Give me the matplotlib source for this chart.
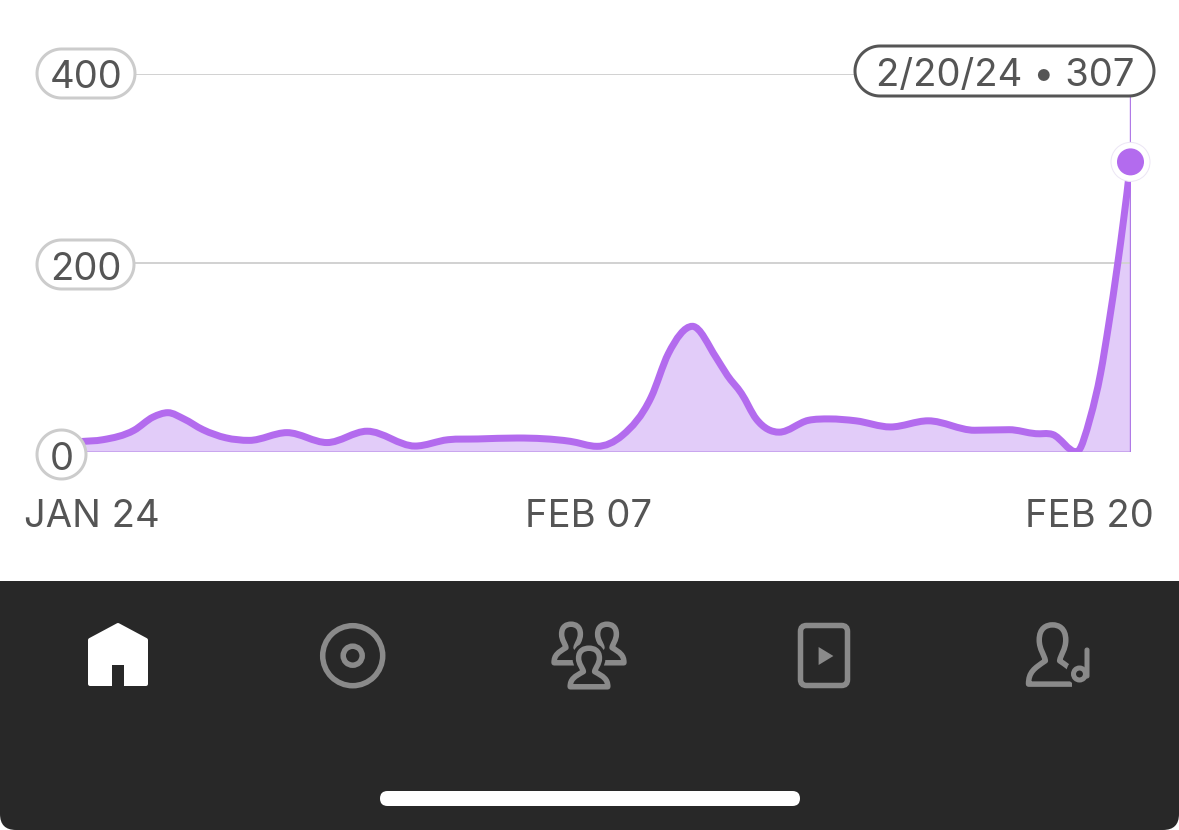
import numpy as np
import matplotlib
matplotlib.use("Agg")
import matplotlib.pyplot as plt
from matplotlib.path import Path
from matplotlib.patches import PathPatch, FancyBboxPatch, Circle, Polygon, Rectangle

# ---- data ----
day_offsets = [0, .59, 1.39, 1.88, 2.26, 2.67, 3.16, 3.75, 4.35, 5.32, 6.35,
               7.38, 8.61, 9.46, 10.23, 11.24, 12.6, 13.29,
               13.94, 14.68, 15.12, 15.74, 16.35, 16.64, 17.0, 17.38,
               17.97, 18.72, 19.26, 19.94, 20.83, 21.8, 22.99, 23.88, 24.56,
               25.0, 25.61, 25.97, 26.23, 26.44, 26.67, 26.82, 27]
streams = [11, 13, 23, 37, 41.6, 35, 23.6, 15, 12.3, 20.5, 10,
           22, 6.3, 13, 13.8, 14.8, 11.3, 6,
           17.6, 58, 104, 133, 100, 81, 62, 35,
           21, 33.5, 35, 33, 26.5, 33, 23, 23.6, 19.4,
           18.5, 0, 37, 83, 135, 199, 245, 307]
y_ticks = [0, 200, 400]
y_labels = ["0", "200", "400"]
x_labels = ["JAN 24", "FEB 07", "FEB 20"]
callout = "2/20/24 • 307"

W, H = 1179, 830
PURPLE, FILL, DARK, GREY, BAR = "#b36bee", "#e2ccf9", "#555555", "#8a8a8a", "#282828"
px = 0.72
plt.rcParams["font.family"] = ["Inter", "DejaVu Sans"]


def smooth_path(x, y):
    """Smooth cubic through the values, flat at local extremes, as Bezier segments."""
    x, y = np.asarray(x, float), np.asarray(y, float)
    h = np.diff(x)
    s = np.diff(y) / h
    m = np.zeros_like(y)
    m[0], m[-1] = s[0], s[-1] * 1.1
    for i in range(1, len(y) - 1):
        if s[i - 1] * s[i] > 0:
            m[i] = (h[i] * s[i - 1] + h[i - 1] * s[i]) / (h[i - 1] + h[i])
    verts, codes = [(x[0], y[0])], [Path.MOVETO]
    for i in range(len(h)):
        verts += [(x[i] + h[i] / 3, y[i] + m[i] * h[i] / 3),
                  (x[i + 1] - h[i] / 3, y[i + 1] - m[i + 1] * h[i] / 3),
                  (x[i + 1], y[i + 1])]
        codes += [Path.CURVE4] * 3
    return verts, codes


fig = plt.figure(figsize=(W / 100, H / 100), dpi=100, facecolor="white")

# main plot
ax = fig.add_axes([80 / W, (H - 452) / H, 1050.5 / W, 378 / H], facecolor="none")
ax.set_xlim(0, 27)
ax.set_ylim(0, 400)
for s in ax.spines.values():
    s.set_visible(False)
ax.set_xticks([])
ax.set_yticks([])

ax.hlines([t for t in y_ticks if t > 0], 0, 27, color="#d2d2d2", lw=2 * px, zorder=2.2)

verts, codes = smooth_path(day_offsets, streams)
fill_path = Path(verts + [(day_offsets[-1], 0), (day_offsets[0], 0), (day_offsets[0], 0)],
                 codes + [Path.LINETO, Path.LINETO, Path.CLOSEPOLY])
ax.add_patch(PathPatch(fill_path, fc=FILL, ec="none", zorder=2))
ax.hlines(0, 0, 27, color="#c9a6ee", lw=3 * px, zorder=2.5)
ax.add_patch(PathPatch(Path(verts, codes), fc="none", ec=PURPLE, lw=7 * px, zorder=3,
                       capstyle="butt"))
ax.vlines(day_offsets[-1], 0, 378, color="#b07ae6", lw=3.4 * px, zorder=2.6)

# overlay in pixel coordinates
ov = fig.add_axes([0, 0, 1, 1], facecolor="none")
ov.set_xlim(0, W)
ov.set_ylim(H, 0)
ov.axis("off")


def pill(x0, y0, x1, y1, ec, lw):
    r = (y1 - y0) / 2
    cy = (y0 + y1) / 2
    a = np.linspace(-np.pi / 2, np.pi / 2, 40)
    right = np.c_[x1 - r + r * np.cos(a), cy + r * np.sin(a)]
    left = np.c_[x0 + r - r * np.cos(a), cy - r * np.sin(a)]
    ov.add_patch(Polygon(np.r_[right, left], closed=True, fc="white", ec=ec, lw=lw * px, zorder=5))


text_kw = dict(color=DARK, va="center_baseline", zorder=6, fontweight="normal")
FS = 27.5
pill_boxes = {"400": (37, 49, 135, 98), "200": (37, 240, 134, 289), "0": (37, 430, 86, 479)}
for lab in y_labels:
    b = pill_boxes[lab]
    pill(*b, "#cccccc", 3)
    ov.text((b[0] + b[2]) / 2, (b[1] + b[3]) / 2 + 1, lab, ha="center", fontsize=FS, **text_kw)

pill(855, 46, 1154, 96, DARK, 3)
ov.text(1005, 72, callout, ha="center", fontsize=FS, **text_kw)

# highlighted point
xp, yp = ax.transData.transform((day_offsets[-1], streams[-1]))
yp = H - yp
ov.add_patch(Circle((xp, yp), 19.5, fc="white", ec="#ece6f5", lw=1 * px, zorder=4))
ov.add_patch(Circle((xp, yp), 13.5, fc=PURPLE, ec="none", zorder=4.5))

# x labels
ov.text(24, 513, x_labels[0], ha="left", fontsize=FS, **text_kw)
ov.text(589, 513, x_labels[1], ha="center", fontsize=FS, **text_kw)
ov.text(1154, 513, x_labels[2], ha="right", fontsize=FS, **text_kw)

# tab bar
ov.add_patch(Rectangle((0, 581), W, 230, fc=BAR, ec="none", zorder=1))
ov.add_patch(FancyBboxPatch((0, 700), W, 130, boxstyle="round,pad=0,rounding_size=16",
                            fc=BAR, ec="none", zorder=1))
ov.add_patch(FancyBboxPatch((380, 791), 420, 15, boxstyle="round,pad=0,rounding_size=7.5",
                            fc="white", ec="none", zorder=2))

# home
ov.add_patch(Polygon([(90, 640), (118, 625), (146, 640), (146, 684), (90, 684)],
                     closed=True, fc="white", ec="white", lw=4 * px, joinstyle="round", zorder=2))
ov.add_patch(Rectangle((112, 665), 12, 22, fc=BAR, ec="none", zorder=3))

# disc
ov.add_patch(Circle((352.7, 655.7), 30, fc="none", ec=GREY, lw=5.5 * px, zorder=2))
ov.add_patch(Circle((352.7, 655.7), 9.5, fc="none", ec=GREY, lw=5.5 * px, zorder=2))


def person(x0, x1, y0, y1, z=2, halo=False):
    w, h = x1 - x0, y1 - y0
    P = lambda a, b: (x0 + a * w, y0 + b * h)
    v = [P(0.03, .97), P(0.03, .78), P(.14, .72), P(.36, .60),
         P(.34, .50), P(.24, .42), P(.24, .27),
         P(.24, .08), P(.38, .03), P(.5, .03),
         P(.62, .03), P(.76, .08), P(.76, .27),
         P(.76, .42), P(.66, .50), P(.64, .60),
         P(.86, .72), P(.97, .78), P(.97, .97), P(0.03, .97)]
    c = [Path.MOVETO] + [Path.CURVE4] * 18 + [Path.CLOSEPOLY]
    path = Path(v, c)
    if halo:
        ov.add_patch(PathPatch(path, fc=BAR, ec=BAR, lw=12 * px, zorder=z))
    ov.add_patch(PathPatch(path, fc=BAR, ec=GREY, lw=5.5 * px, joinstyle="round", zorder=z + .1))


person(553, 589, 623, 664)
person(589, 625, 623, 664)
person(569, 609, 647, 688, z=3, halo=True)

# video tablet
ov.add_patch(FancyBboxPatch((800.5, 625.5), 47, 60, boxstyle="round,pad=0,rounding_size=6",
                            fc="none", ec=GREY, lw=5.5 * px, zorder=2))
ov.add_patch(Polygon([(818.6, 647), (833.4, 656), (818.6, 665)], closed=True, fc=GREY, ec="none", zorder=2))

# artist with note
person(1027, 1078, 623, 686)
ov.add_patch(Circle((1080, 672), 13.5, fc=BAR, ec="none", zorder=3))
ov.add_patch(Rectangle((1072, 660), 22, 30, fc=BAR, ec="none", zorder=3))
ov.add_patch(Circle((1079.5, 674), 6, fc="none", ec=GREY, lw=5 * px, zorder=4))
ov.add_patch(FancyBboxPatch((1085, 648), 4, 30, boxstyle="round,pad=0,rounding_size=2",
                            fc=GREY, ec=GREY, lw=1 * px, zorder=4))

fig.savefig("out.png", dpi=100)
